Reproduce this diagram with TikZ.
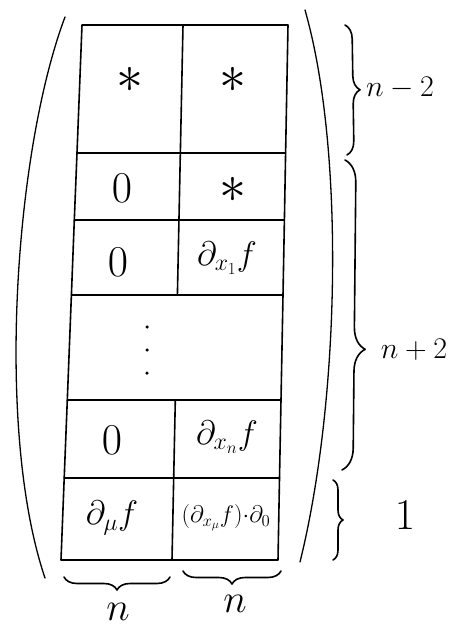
\RequirePackage{fix-cm}
\documentclass[tikz,border=0pt]{standalone}
\usetikzlibrary{decorations.pathreplacing}
\begin{document}
\begin{tikzpicture}[x=1pt,y=-1pt,
  ink/.style={line width=1.6pt, line cap=round, line join=round},
  cell/.style={inner sep=0pt, font=\fontsize{34}{40}\selectfont},
  zerocell/.style={inner sep=0pt, font=\fontsize{44}{50}\selectfont},
  starcell/.style={inner sep=0pt, font=\fontsize{54}{60}\selectfont},
  lab/.style={inner sep=0pt, font=\fontsize{30}{36}\selectfont},
  dotmark/.style={circle, fill=black, inner sep=0pt, minimum size=3.5pt},
  bracestyle/.style={ink, decorate, decoration={brace, amplitude=#1}}]
\useasboundingbox (0,0) rectangle (472,628);
\fill[white] (0,0) rectangle (472,628);
% grid corners
\coordinate (L0) at (82,25);   \coordinate (R0) at (288,25);
\coordinate (L1) at (77,153);  \coordinate (R1) at (285.6,153);
\coordinate (L2) at (74.3,220);\coordinate (R2) at (284.4,220);
\coordinate (L3) at (71.4,295);\coordinate (R3) at (283,295);
\coordinate (L4) at (67.3,400);\coordinate (R4) at (281,400);
\coordinate (L5) at (64.2,478);\coordinate (R5) at (279.5,478);
\coordinate (L6) at (61,560);  \coordinate (R6) at (278,560);
\coordinate (M0) at (183,25);  \coordinate (M3) at (177.4,295);
\coordinate (M4) at (175.3,400); \coordinate (M6) at (172,560);
% outline and rows
\draw[ink] (L0) -- (L1) -- (L2) -- (L3) -- (L4) -- (L5) -- (L6) -- (R6) -- (R5) -- (R4) -- (R3) -- (R2) -- (R1) -- (R0) -- cycle;
\draw[ink] (L1) -- (R1);
\draw[ink] (L2) -- (R2);
\draw[ink] (L3) -- (R3);
\draw[ink] (L4) -- (R4);
\draw[ink] (L5) -- (R5);
\draw[ink] (M0) -- (M3);
\draw[ink] (M4) -- (M6);
% parentheses
\coordinate (PLt) at (65,17); \coordinate (PLb) at (45,578);
\coordinate (PRt) at (305,10); \coordinate (PRb) at (300,562);
\draw[ink, line width=1.3pt] (PLt) .. controls (15,150) and (-5,430) .. (PLb);
\draw[ink, line width=1.3pt] (PRt) .. controls (345,150) and (340,400) .. (PRb);
% cell contents
\node[starcell] (a11) at (130,80) {$\ast$};
\node[starcell] (a12) at (233,80) {$\ast$};
\node[zerocell] (a21) at (122,188) {$0$};
\node[starcell] (a22) at (233,190) {$\ast$};
\node[zerocell] (a31) at (118,262) {$0$};
\node[cell] (a32) at (227,258) {$\partial_{x_1} f$};
\node[dotmark] (d1) at (147,327) {};
\node[dotmark] (d2) at (147,350) {};
\node[dotmark] (d3) at (147,373) {};
\node[zerocell] (a51) at (112,440) {$0$};
\node[cell] (a52) at (227,437) {$\partial_{x_n} f$};
\node[cell] (a61) at (112,518) {$\partial_\mu f$};
\node[inner sep=0pt, font=\fontsize{24}{30}\selectfont] (a62) at (226,518) {$(\partial_{x_\mu} f){\cdot}\partial_0$};
% right braces
\coordinate (B1t) at (345,25);  \coordinate (B1b) at (347,155);
\coordinate (B2t) at (345,160); \coordinate (B2b) at (342,470);
\coordinate (B3t) at (333,480); \coordinate (B3b) at (333,560);
\draw[bracestyle=14pt] (B1t) -- (B1b);
\draw[bracestyle=22pt, decoration={aspect=0.61}] (B2t) -- (B2b);
\draw[bracestyle=10pt] (B3t) -- (B3b);
\node[lab] (l1) at (400,88) {$n-2$};
\node[lab] (l2) at (414,350) {$n+2$};
\node[inner sep=0pt, font=\fontsize{44}{50}\selectfont] (l3) at (405,515) {$1$};
% bottom braces
\coordinate (C1r) at (170,577); \coordinate (C1l) at (64,577);
\coordinate (C2r) at (281,571); \coordinate (C2l) at (183,571);
\draw[bracestyle=13pt] (C1r) -- (C1l);
\draw[bracestyle=13pt] (C2r) -- (C2l);
\node[inner sep=0pt, font=\fontsize{40}{46}\selectfont] (n1) at (118,612) {$n$};
\node[inner sep=0pt, font=\fontsize{40}{46}\selectfont] (n2) at (235,604) {$n$};
\end{tikzpicture}
\end{document}
